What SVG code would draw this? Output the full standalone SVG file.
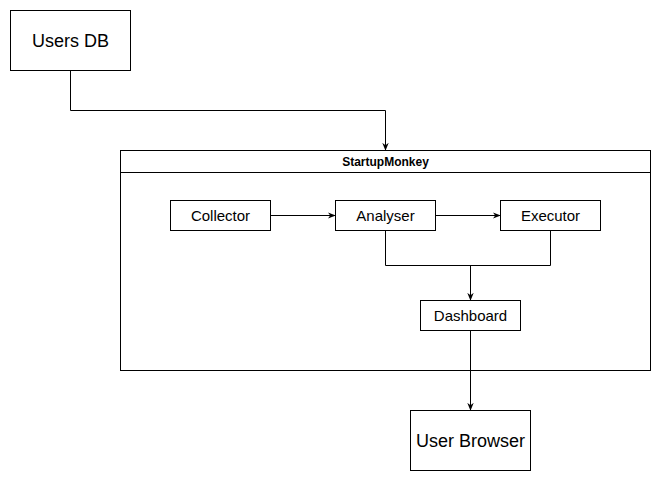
<svg xmlns="http://www.w3.org/2000/svg" width="661" height="481" viewBox="0 0 661 481">
<style>
.box{fill:#fff;stroke:#000;stroke-width:1}
.t{font-family:"Liberation Sans",Arial,sans-serif;fill:#000;text-anchor:middle;dominant-baseline:central}
.s{font-size:15px}
.l{font-size:18px}
.c{fill:none;stroke:#000;stroke-width:1}
</style>
<defs>
<marker id="a" viewBox="0 0 10 10" refX="9" refY="5" markerWidth="8" markerHeight="8" orient="auto" markerUnits="userSpaceOnUse">
<path d="M0,1 L10,5 L0,9 L3,5 Z" fill="#000"/>
</marker>
</defs>
<rect width="661" height="481" fill="#fff"/>
<g id="startupmonkey">
<rect class="box" x="120.5" y="150.5" width="530" height="220"/>
<line class="c" x1="120.5" y1="172.5" x2="650.5" y2="172.5"/>
<text class="t" x="385.5" y="161.5" font-size="12" font-weight="bold">StartupMonkey</text>
</g>
<g id="users-db">
<rect class="box" x="10.5" y="10.5" width="120" height="60"/>
<text class="t l" x="70.5" y="40.5">Users DB</text>
</g>
<g id="collector">
<rect class="box" x="170.5" y="200.5" width="100" height="30"/>
<text class="t s" x="220.5" y="215.5">Collector</text>
</g>
<g id="analyser">
<rect class="box" x="335.5" y="200.5" width="100" height="30"/>
<text class="t s" x="385.5" y="215.5">Analyser</text>
</g>
<g id="executor">
<rect class="box" x="500.5" y="200.5" width="100" height="30"/>
<text class="t s" x="550.5" y="215.5">Executor</text>
</g>
<g id="dashboard">
<rect class="box" x="420.5" y="300.5" width="100" height="30"/>
<text class="t s" x="470.5" y="315.5">Dashboard</text>
</g>
<g id="user-browser">
<rect class="box" x="410.5" y="410.5" width="120" height="60"/>
<text class="t l" x="470.5" y="440.5">User Browser</text>
</g>
<g id="connectors">
<path class="c" d="M70.5,70.5 V110.5 H385.5 V150" marker-end="url(#a)"/>
<path class="c" d="M270.5,215.5 H335" marker-end="url(#a)"/>
<path class="c" d="M435.5,215.5 H500" marker-end="url(#a)"/>
<path class="c" d="M385.5,230.5 V265.5 H550.5 V230.5"/>
<path class="c" d="M470.5,265.5 V300" marker-end="url(#a)"/>
<path class="c" d="M470.5,330.5 V410" marker-end="url(#a)"/>
</g>
</svg>
